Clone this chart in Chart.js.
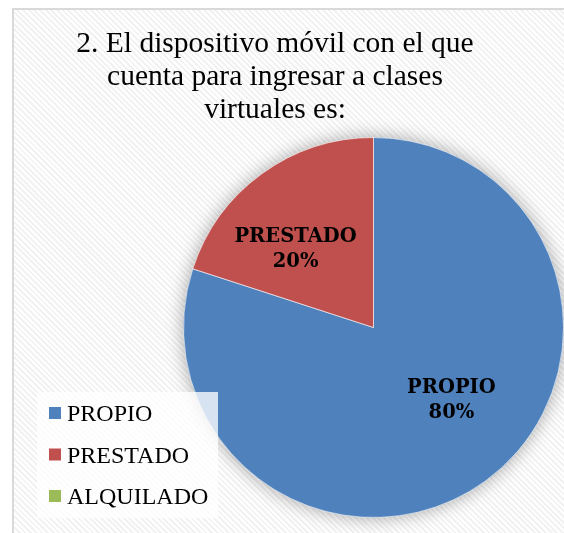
<!DOCTYPE html>
<html lang="es">
<head>
<meta charset="UTF-8">
<title>Dispositivo móvil</title>
<script src="https://cdn.jsdelivr.net/npm/chart.js"></script>
<style>
    html, body { margin: 0; padding: 0; background: #fff; }
    .wrap { position: relative; width: 564px; height: 533px; overflow: hidden; }
    .frame {
        position: absolute; left: 12px; top: 8px; right: -4px; bottom: -4px;
        border-left: 2px solid #d9d9d9; border-top: 2px solid #d9d9d9;
        background: repeating-linear-gradient(45deg, #ffffff 0 2px, #f2f2f2 2px 4px);
    }
    #chart { position: absolute; left: 0; top: 0; }
    .probe { position: absolute; left: -999px; font-family: "Liberation Serif"; }
</style>
</head>
<body>
<div class="wrap">
    <div class="frame"></div>
    <canvas id="chart" width="564" height="533"></canvas>
</div>
<span class="probe">PROPIO</span>
<script>
    // datos
    const titleLines = ['2. El dispositivo móvil con el que', 'cuenta para ingresar a clases', 'virtuales es:'];
    const categories = ['PROPIO', 'PRESTADO', 'ALQUILADO'];
    const values = [80, 20, 0];
    const colors = ['#4F81BD', '#C0504D', '#9BBB59'];

    const serif = '"Liberation Serif", "Times New Roman", Times, serif';

    // sombra debajo del pastel
    const shadowPlugin = {
        id: 'pieShadow',
        beforeDatasetsDraw(chart) {
            const arc = chart.getDatasetMeta(0).data[0];
            if (!arc) return;
            const ctx = chart.ctx;
            ctx.save();
            ctx.shadowColor = 'rgba(0,0,0,0.35)';
            ctx.shadowBlur = 18;
            ctx.fillStyle = '#bbb';
            ctx.beginPath();
            ctx.arc(arc.x, arc.y, arc.outerRadius, 0, Math.PI * 2);
            ctx.fill();
            ctx.restore();
        }
    };

    // titulo, etiquetas y leyenda
    const textPlugin = {
        id: 'texts',
        afterDraw(chart) {
            const ctx = chart.ctx;
            ctx.save();
            ctx.fillStyle = '#000';
            ctx.textAlign = 'center';
            ctx.textBaseline = 'alphabetic';
            ctx.font = '29.5px ' + serif;
            titleLines.forEach((t, i) => ctx.fillText(t, 275, 52 + i * 33));

            // etiquetas de datos (un poco girado, como Excel)
            const total = values.reduce((a, b) => a + b, 0);
            const meta = chart.getDatasetMeta(0);
            ctx.font = 'bold 19.5px "DejaVu Serif", serif';
            ctx.textBaseline = 'middle';
            meta.data.forEach((arc, i) => {
                if (!values[i]) return;
                const mid = (arc.startAngle + arc.endAngle) / 2 - Math.PI / 18;
                const r = arc.outerRadius * 0.57;
                const x = arc.x + Math.cos(mid) * r;
                const y = arc.y + Math.sin(mid) * r;
                ctx.fillText(categories[i], x, y - 15);
                ctx.fillText(Math.round(values[i] / total * 100) + '%', x, y + 10);
            });

            // leyenda
            ctx.fillStyle = 'rgba(255,255,255,0.78)';
            ctx.fillRect(37, 392, 181, 126);
            ctx.textAlign = 'left';
            ctx.textBaseline = 'alphabetic';
            ctx.font = '24px ' + serif;
            categories.forEach((c, i) => {
                const y = 421 + i * 41.5;
                ctx.fillStyle = colors[i];
                ctx.fillRect(49, y - 14, 12, 12);
                ctx.fillStyle = '#000';
                ctx.fillText(c, 67, y);
            });
            ctx.restore();
        }
    };

    function build() {
        new Chart(document.getElementById('chart'), {
            type: 'pie',
            data: {
                labels: categories,
                datasets: [{
                    data: values,
                    backgroundColor: colors,
                    borderColor: 'rgba(255,255,255,0.6)',
                    borderWidth: 1
                }]
            },
            options: {
                responsive: false,
                animation: false,
                layout: { padding: { left: 183, top: 137, right: 0, bottom: 15 } },
                plugins: {
                    legend: { display: false },
                    tooltip: { enabled: false }
                }
            },
            plugins: [shadowPlugin, textPlugin]
        });
    }

    Promise.all([
        document.fonts.load('28px "Liberation Serif"'),
        document.fonts.load('bold 18px "DejaVu Serif"')
    ]).then(build, build);
</script>
</body>
</html>
